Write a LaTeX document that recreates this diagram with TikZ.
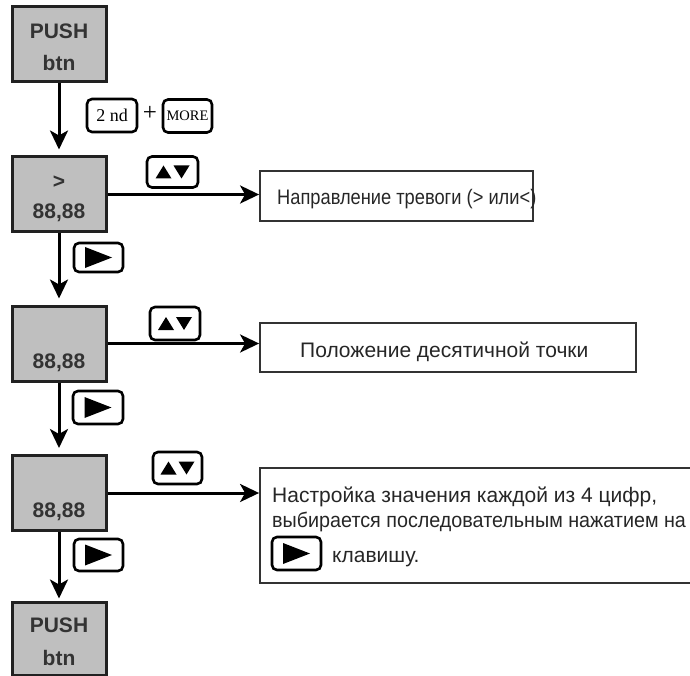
\documentclass[tikz,border=0pt]{standalone}
\usepackage{fontspec}
\setmainfont{Liberation Sans}
\newfontfamily\keyfont{Liberation Serif}
\usetikzlibrary{arrows.meta}
\begin{document}
\begin{tikzpicture}[x=1pt,y=-1pt,
  panel/.style={draw=black!87, line width=3pt, fill=black!25, minimum width=94pt, minimum height=75pt, inner sep=0pt},
  paneltext/.style={font=\fontsize{21}{25}\selectfont\bfseries, text=black!80, inner sep=0pt},
  note/.style={draw=black!80, line width=1.8pt, inner sep=0pt},
  notetext/.style={font=\fontsize{21}{25}\selectfont, text=black!85, inner sep=0pt, anchor=base west},
  keycap/.style={draw=black, line width=2.6pt, rounded corners=5pt, inner sep=0pt},
  flow/.style={line width=3pt, -{Stealth[length=19pt,width=18pt,inset=5pt]}},
  updown/.pic={\fill (-17,6.5) -- (-9,-6.5) -- (-1,6.5) -- cycle;
               \fill (1,-6.5) -- (17,-6.5) -- (9,6.5) -- cycle;},
  rightkey/.pic={\fill (-13.5,-10.5) -- (13.5,0) -- (-13.5,10.5) -- cycle;}
]
\useasboundingbox (0,0) rectangle (690,676);
\clip (0,0) rectangle (690,676);

% display panels
\node[panel] (b1) at (59,44.5) {};
\node[panel] (b2) at (59,194.5) {};
\node[panel] (b3) at (59,343.5) {};
\node[panel] (b4) at (59,493) {};
\node[panel, minimum height=73pt] (b5) at (59,638.5) {};

\node[paneltext] (b1a) at (59,31) {PUSH};
\node[paneltext] (b1b) at (59,63) {btn};
\node[paneltext] (b2a) at (59,182) {>};
\node[paneltext] (b2b) at (59,213) {88,88};
\node[paneltext] (b3b) at (59,363) {88,88};
\node[paneltext] (b4b) at (59,512) {88,88};
\node[paneltext] (b5a) at (59,625) {PUSH};
\node[paneltext] (b5b) at (59,658) {btn};

% description boxes
\node[note, minimum width=273pt, minimum height=50pt] (n1) at (396.5,196) {};
\node[note, minimum width=376pt, minimum height=49pt] (n2) at (448,347.5) {};
\node[note, minimum width=460pt, minimum height=115pt] (n3) at (490,525.5) {};

\node[notetext] (t1) at (277,205) {\scalebox{0.87}[1]{Направление тревоги (> или<)}};
\node[notetext] (t2) at (300,357) {Положение десятичной точки};
\node[notetext] (t3a) at (272,502) {Настройка значения каждой из 4 цифр,};
\node[notetext] (t3b) at (272,527) {\scalebox{0.94}[1]{выбирается последовательным нажатием на}};
\node[notetext] (t3c) at (332,562) {клавишу.};

% flow connectors
\draw[flow, shorten >=6pt] (b1) -- (b2);
\draw[flow, shorten >=6pt] (b2) -- (b3);
\draw[flow, shorten >=6pt] (b3) -- (b4);
\draw[flow, shorten >=2pt] (b4) -- (b5);
\draw[flow] (b2.east) -- (b2.east -| n1.west);
\draw[flow] (b3.east) -- (b3.east -| n2.west);
\draw[flow] (b4.east) -- (b4.east -| n3.west);

% key caps
\node[keycap, minimum width=50pt, minimum height=33pt, font=\keyfont\fontsize{18}{20}\selectfont] (k2nd) at (112,115.5) {2 nd};
\node[font=\keyfont\fontsize{25}{27}\selectfont, inner sep=0pt, anchor=base] (plus) at (150,121) {+};
\node[keycap, minimum width=49pt, minimum height=33pt, font=\keyfont\fontsize{14.5}{16}\selectfont] (kmore) at (187.5,116) {MORE};

\node[keycap, minimum width=51pt, minimum height=31pt] (ku1) at (172.5,172) {};
\node[keycap, minimum width=50pt, minimum height=33pt] (ku2) at (175,323.5) {};
\node[keycap, minimum width=49pt, minimum height=32pt] (ku3) at (177.5,468) {};
\pic at (ku1) {updown};
\pic at (ku2) {updown};
\pic at (ku3) {updown};

\node[keycap, minimum width=49pt, minimum height=29pt] (kr1) at (98.5,257.5) {};
\node[keycap, minimum width=50pt, minimum height=33pt] (kr2) at (98,407.5) {};
\node[keycap, minimum width=49pt, minimum height=32pt] (kr3) at (98.5,555) {};
\node[keycap, minimum width=49pt, minimum height=33pt] (kr4) at (296.5,553.5) {};
\pic at (kr1) {rightkey};
\pic at (kr2) {rightkey};
\pic at (kr3) {rightkey};
\pic at (kr4) {rightkey};
\end{tikzpicture}
\end{document}
